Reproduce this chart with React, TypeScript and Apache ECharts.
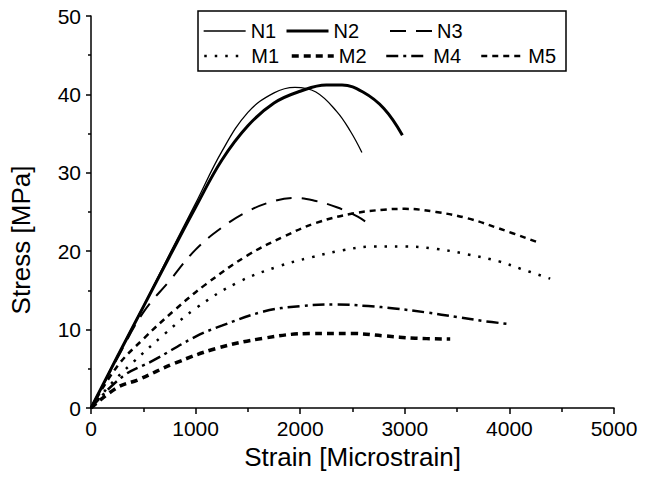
import React, { useEffect, useRef } from "react";
import * as echarts from "echarts";

const seriesNames = ["N1", "N2", "N3", "M1", "M2", "M4", "M5"];

const n1: number[][] = [[0,0],[250,6.6],[500,13],[750,19.6],[1000,26.1],[1250,32.7],[1500,37.7],[1750,40.2],[1950,40.9],[2150,40.3],[2350,37.8],[2480,35.3],[2590,32.6]];
const n2: number[][] = [[0,0],[250,6.5],[500,12.9],[750,19.3],[1000,25.6],[1250,31.6],[1500,36],[1750,38.9],[2000,40.4],[2250,41.2],[2400,41.2],[2600,40.3],[2800,38.2],[2977,34.8]];
const n3: number[][] = [[0,0],[250,6.3],[500,12.2],[750,16.2],[1000,20.2],[1250,23.0],[1500,25.1],[1750,26.4],[1950,26.8],[2150,26.4],[2350,25.6],[2550,24.4],[2694,23.1]];
const m1: number[][] = [[0,0],[200,3.2],[400,5.8],[700,9.4],[1000,12.7],[1400,16.0],[1800,18.1],[2100,19.2],[2400,20.1],[2700,20.6],[3000,20.6],[3300,20.3],[3600,19.6],[3900,18.7],[4100,17.8],[4390,16.5]];
const m2: number[][] = [[0,0],[250,2.6],[450,3.6],[800,5.7],[1200,7.6],[1650,8.9],[2100,9.5],[2500,9.5],[2800,9.2],[3100,8.9],[3434,8.8]];
const m4: number[][] = [[0,0],[300,4.0],[600,6.1],[1000,9.1],[1250,10.5],[1650,12.3],[2000,13.0],[2350,13.2],[2650,13.0],[2900,12.7],[3200,12.2],[3500,11.6],[3750,11.1],[4000,10.7]];
const m5: number[][] = [[0,0],[250,5.3],[500,8.8],[800,12.5],[1100,15.8],[1500,19.5],[1850,21.9],[2150,23.6],[2500,24.8],[2800,25.3],[3000,25.4],[3300,25.0],[3600,24.2],[3900,22.9],[4300,21.0]];

const seriesData = [n1, n2, n3, m1, m2, m4, m5];
const lineWidths = [1.3, 3, 2, 2.5, 3.5, 2.5, 2.5];
const lineTypes: any[] = ["solid", "solid", [16, 10], [2.5, 8], [7, 5], [12, 5, 3, 5], [6, 5]];
const legendPos = [
  [203, 21], [285, 21], [389, 21],
  [203, 46], [290, 46], [385, 46], [480, 46],
];

const FONT = "'Liberation Sans', Arial, sans-serif";

export default function App() {
  const ref = useRef<HTMLDivElement>(null);
  useEffect(() => {
    const chart = echarts.init(ref.current!, null, { renderer: "svg" });
    chart.setOption({
      animation: false,
      backgroundColor: "#ffffff",
      textStyle: { fontFamily: FONT },
      grid: { left: 85, right: 36, top: 16, bottom: 77 },
      xAxis: {
        type: "value",
        min: 0, max: 5000, interval: 1000,
        name: "Strain [Microstrain]",
        nameLocation: "middle",
        nameGap: 34,
        nameTextStyle: { fontSize: 26, color: "#000", fontFamily: FONT },
        axisLine: { show: true, lineStyle: { color: "#000", width: 1.5 } },
        axisTick: { show: true, inside: false, length: 6, lineStyle: { color: "#000", width: 1.5 } },
        minorTick: { show: true, splitNumber: 2, length: 4, lineStyle: { color: "#000", width: 1.5 } },
        axisLabel: { fontSize: 21, color: "#000", margin: 10, fontFamily: FONT, formatter: (v: number) => String(v) },
        splitLine: { show: false },
      },
      yAxis: {
        type: "value",
        min: 0, max: 50, interval: 10,
        name: "Stress [MPa]",
        nameLocation: "middle",
        nameGap: 57,
        nameRotate: 90,
        nameTextStyle: { fontSize: 26, color: "#000", fontFamily: FONT, padding: [0, 56, 0, 0] },
        axisLine: { show: true, lineStyle: { color: "#000", width: 1.5 } },
        axisTick: { show: true, inside: false, length: 5, lineStyle: { color: "#000", width: 1.5 } },
        minorTick: { show: true, splitNumber: 2, length: 3, lineStyle: { color: "#000", width: 1.5 } },
        axisLabel: { fontSize: 21, color: "#000", margin: 10, fontFamily: FONT, formatter: (v: number) => String(v) },
        splitLine: { show: false },
      },
      legend: seriesNames.map((name, i) => ({
        data: [name],
        left: legendPos[i][0],
        top: legendPos[i][1],
        itemWidth: 42,
        itemHeight: 14,
        itemGap: 0,
        padding: 0,
        selectedMode: false,
        itemStyle: { opacity: 0 },
        lineStyle: { color: "#000", width: lineWidths[i], type: lineTypes[i] },
        textStyle: { fontSize: 20, color: "#000", fontFamily: FONT },
      })),
      graphic: [
        {
          type: "rect",
          shape: { x: 198, y: 11, width: 368, height: 60 },
          style: { fill: "none", stroke: "#000", lineWidth: 1.5 },
          z: 10,
        },
      ],
      series: seriesNames.map((name, i) => ({
        name,
        type: "line",
        data: seriesData[i],
        smooth: 0.4,
        symbol: "none",
        showSymbol: false,
        lineStyle: { color: "#000", width: lineWidths[i], type: lineTypes[i] },
        itemStyle: { color: "#000" },
      })),
    });
    return () => chart.dispose();
  }, []);
  return (
    <div
      ref={ref}
      style={{ position: "fixed", left: 0, top: 0, width: 650, height: 485 }}
    />
  );
}
